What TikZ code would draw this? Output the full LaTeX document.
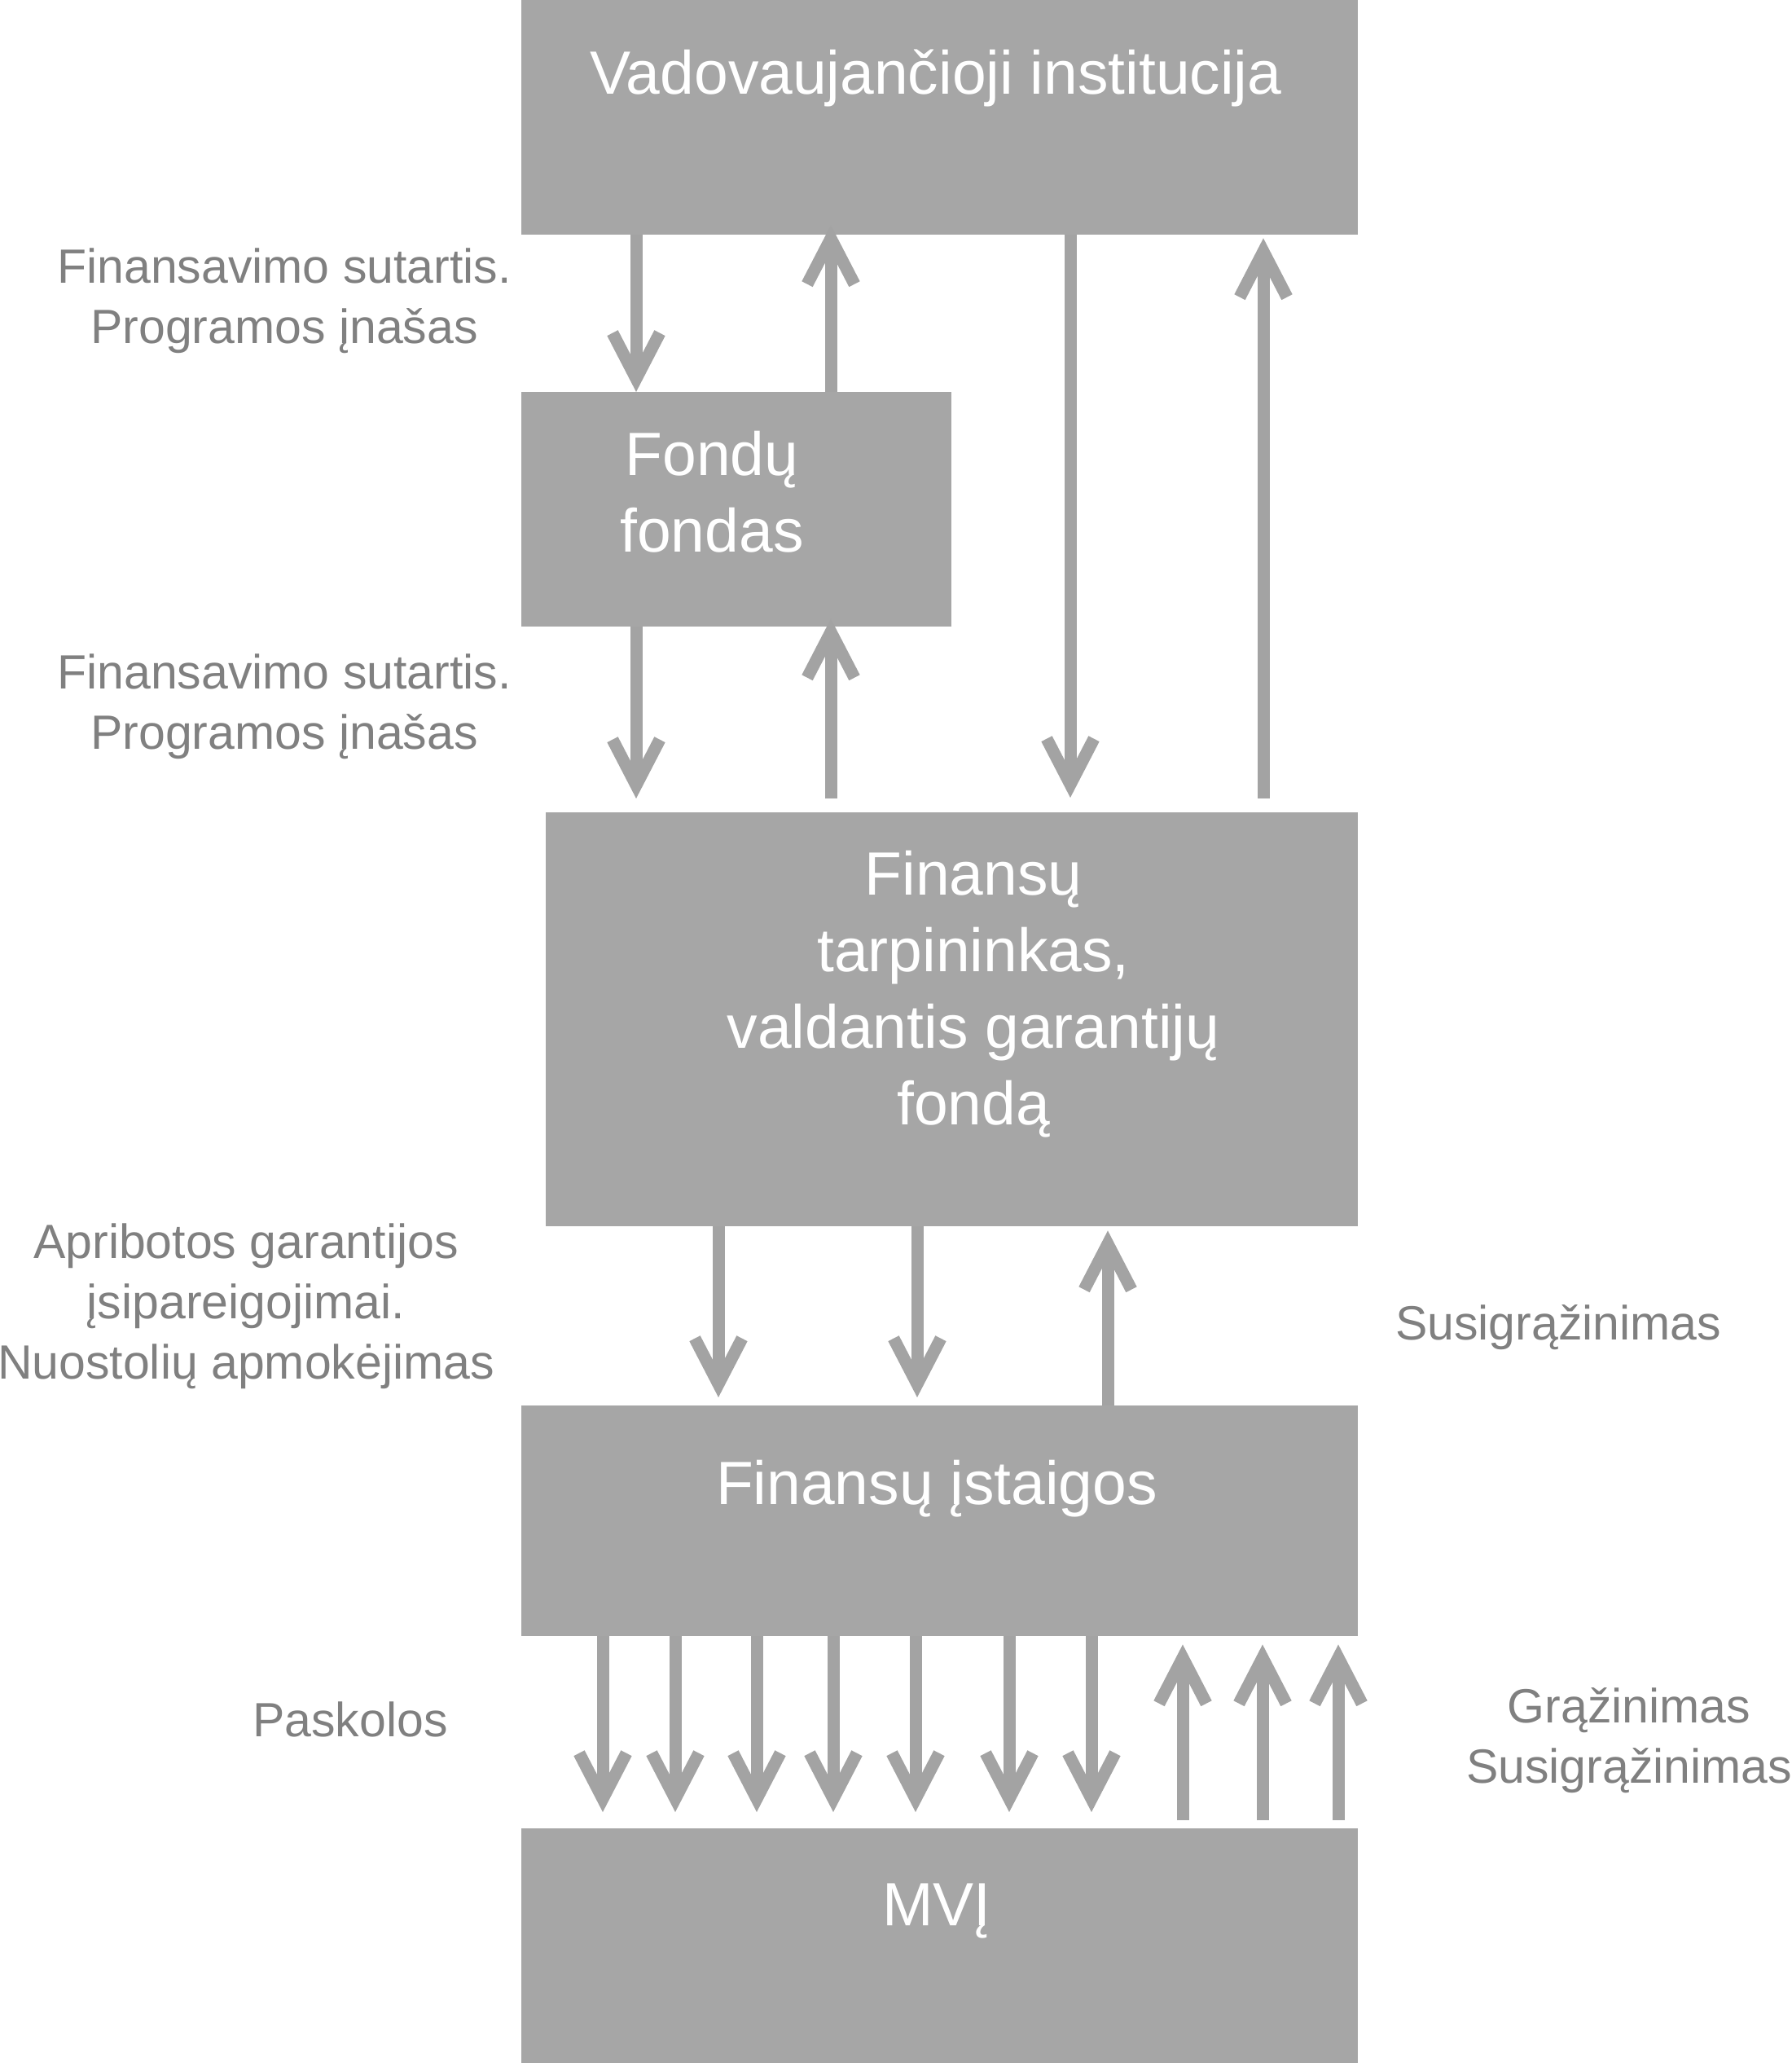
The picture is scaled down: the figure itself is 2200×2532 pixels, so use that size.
\documentclass[tikz,border=0pt]{standalone}
\usepackage{fontspec}
\setmainfont{Liberation Sans}
\usetikzlibrary{arrows.meta}
\definecolor{boxgray}{HTML}{A6A6A6}
\definecolor{arrgray}{HTML}{A3A3A3}
\definecolor{labgray}{HTML}{808080}
\begin{document}
\begin{tikzpicture}[x=1pt,y=-1pt,
  box/.style={fill=boxgray, draw=none, inner sep=0pt, anchor=north west},
  boxtext/.style={text=white, font=\fontsize{75}{94}\selectfont, align=center, inner sep=0pt, anchor=base},
  lab/.style={text=labgray, font=\fontsize{59}{74}\selectfont, align=center, inner sep=0pt, anchor=base},
  arr/.style={draw=arrgray, line width=15pt, -{Straight Barb[length=56pt,width=58pt,sharp]}}]
\useasboundingbox (0,0) rectangle (2200,2532);

% boxes
\node[box, minimum width=1027pt, minimum height=288pt] (vad) at (640,0) {};
\node[box, minimum width=528pt, minimum height=288pt] (fond) at (640,481) {};
\node[box, minimum width=997pt, minimum height=508pt] (tarp) at (670,997) {};
\node[box, minimum width=1027pt, minimum height=283pt] (ist) at (640,1725) {};
\node[box, minimum width=1027pt, minimum height=288pt] (mvi) at (640,2244) {};

% box texts (anchor base = baseline of the last line)
\node[boxtext] (tvad) at (1149,115) {Vadovaujančioji institucija};
\node[boxtext] (tfond) at (874,677) {Fondų\\fondas};
\node[boxtext] (ttarp) at (1195,1380) {Finansų\\tarpininkas,\\valdantis garantijų\\fondą};
\node[boxtext] (tist) at (1150,1846) {Finansų įstaigos};
\node[boxtext] (tmvi) at (1150,2363) {MVĮ};

% labels
\node[lab] (l1) at (349,421) {Finansavimo sutartis.\\Programos įnašas};
\node[lab] (l2) at (349,919) {Finansavimo sutartis.\\Programos įnašas};
\node[lab] (l3) at (302,1692) {Apribotos garantijos\\įsipareigojimai.\\Nuostolių apmokėjimas};
\node[lab] (l4) at (1913,1644) {Susigrąžinimas};
\node[lab] (l5) at (430,2131) {Paskolos};
\node[lab] (l6) at (2000,2188) {Grąžinimas\\Susigrąžinimas};

% x positions
\foreach \n/\x in {a/781, b/1020, c/1314, d/1551, e/882, f/1126, g/1360,
  p1/740, p2/829, p3/929, p4/1023, p5/1124, p6/1239, p7/1340,
  q1/1452, q2/1550, q3/1643}
  \coordinate (x\n) at (\x,0);

% arrows
\draw[arr] (vad.south -| xa) -- (fond.north -| xa);
\draw[arr, shorten >=-12pt] (fond.north -| xb) -- (vad.south -| xb);
\draw[arr, shorten >=18pt] (vad.south -| xc) -- (tarp.north -| xc);
\draw[arr, shorten <=17pt, shorten >=4pt] (tarp.north -| xd) -- (vad.south -| xd);
\draw[arr, shorten >=17pt] (fond.south -| xa) -- (tarp.north -| xa);
\draw[arr, shorten <=17pt, shorten >=-10pt] (tarp.north -| xb) -- (fond.south -| xb);
\draw[arr, shorten >=10pt] (tarp.south -| xe) -- (ist.north -| xe);
\draw[arr, shorten >=10pt] (tarp.south -| xf) -- (ist.north -| xf);
\draw[arr, shorten >=5pt] (ist.north -| xg) -- (tarp.south -| xg);
\foreach \k in {p1,p2,p3,p4,p5,p6,p7}
  \draw[arr, shorten >=20pt] (ist.south -| x\k) -- (mvi.north -| x\k);
\foreach \k in {q1,q2,q3}
  \draw[arr, shorten <=10pt, shorten >=10pt] (mvi.north -| x\k) -- (ist.south -| x\k);
\end{tikzpicture}
\end{document}
